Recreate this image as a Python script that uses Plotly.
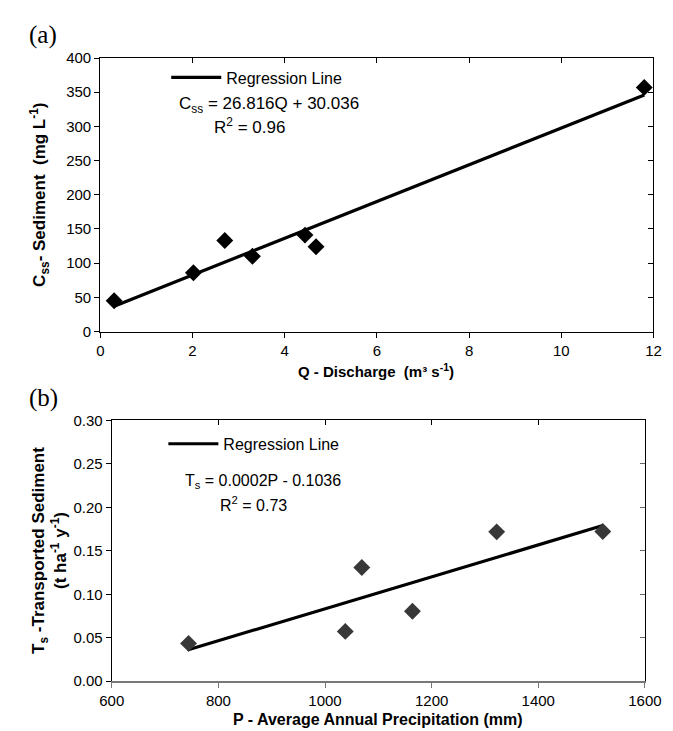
import plotly.graph_objects as go

# ---------- data ----------
# panel (a)
q_discharge = [0.30, 2.02, 2.70, 3.30, 4.44, 4.68, 11.80]
css_sediment = [45, 86, 133, 110, 141, 124, 357]
reg_a_x = [0.3, 11.8]
reg_a_y = [37, 346]
xticks_a = [0, 2, 4, 6, 8, 10, 12]
yticks_a = [0, 50, 100, 150, 200, 250, 300, 350, 400]

# panel (b)
p_precip = [744, 1038, 1069, 1164, 1322, 1521]
ts_sediment = [0.0435, 0.0573, 0.1307, 0.0804, 0.1718, 0.1722]
reg_b_x = [742, 1521]
reg_b_y = [0.0359, 0.179]
xticks_b = [600, 800, 1000, 1200, 1400, 1600]
yticks_b = [0.00, 0.05, 0.10, 0.15, 0.20, 0.25, 0.30]

W, H = 673, 731
def px(x):
    return x / W
def py(y):
    return 1 - y / H

FONT = "Liberation Sans, Arial, sans-serif"
NARROW = "Liberation Sans Narrow, Liberation Sans, Arial, sans-serif"

fig = go.Figure()

# panel (a)
fig.add_trace(go.Scatter(x=reg_a_x, y=reg_a_y, mode="lines",
                         line=dict(color="black", width=3.2),
                         name="Regression Line", legend="legend",
                         xaxis="x", yaxis="y"))
fig.add_trace(go.Scatter(x=q_discharge, y=css_sediment, mode="markers",
                         marker=dict(symbol="diamond", size=13, color="black"),
                         showlegend=False, xaxis="x", yaxis="y"))
# mirror axes for (a)
fig.add_trace(go.Scatter(x=q_discharge, y=css_sediment, mode="markers",
                         marker=dict(opacity=0), showlegend=False,
                         hoverinfo="skip", xaxis="x3", yaxis="y3"))

# panel (b)
fig.add_trace(go.Scatter(x=reg_b_x, y=reg_b_y, mode="lines",
                         line=dict(color="black", width=3.2),
                         name="Regression Line", legend="legend2",
                         xaxis="x2", yaxis="y2"))
fig.add_trace(go.Scatter(x=p_precip, y=ts_sediment, mode="markers",
                         marker=dict(symbol="diamond", size=13, color="#383838"),
                         showlegend=False, xaxis="x2", yaxis="y2"))
fig.add_trace(go.Scatter(x=p_precip, y=ts_sediment, mode="markers",
                         marker=dict(opacity=0), showlegend=False,
                         hoverinfo="skip", xaxis="x4", yaxis="y4"))

dom_ax = [px(83), px(662)]
dom_ay = [py(322), py(42)]
dom_bx = [px(95), px(653)]
dom_by = [py(680), py(413)]

tickfont = dict(family=FONT, size=15, color="black")

fig.update_layout(
    width=W, height=H,
    margin=dict(l=0, r=0, t=0, b=0),
    paper_bgcolor="white", plot_bgcolor="white",
    font=dict(family=FONT, color="black"),
    xaxis=dict(domain=dom_ax, anchor="y", range=[0, 12], tickvals=xticks_a,
               ticks="outside", ticklen=5, tickcolor="black",
               showline=True, linecolor="black", linewidth=1.2,
               showgrid=False, zeroline=False, tickfont=tickfont),
    yaxis=dict(domain=dom_ay, anchor="x", range=[0, 400], tickvals=yticks_a,
               ticks="outside", ticklen=5, tickcolor="black",
               showline=True, linecolor="black", linewidth=1.2,
               showgrid=False, zeroline=False, tickfont=tickfont),
    xaxis3=dict(overlaying="x", anchor="y3", side="top", range=[0, 12],
                tickvals=xticks_a, ticks="inside", ticklen=5, tickcolor="black",
                showticklabels=False, showline=True, linecolor="black",
                linewidth=1.2, showgrid=False, zeroline=False),
    yaxis3=dict(overlaying="y", anchor="x3", side="right", range=[0, 400],
                tickvals=yticks_a, ticks="inside", ticklen=5, tickcolor="black",
                showticklabels=False, showline=True, linecolor="black",
                linewidth=1.2, showgrid=False, zeroline=False),
    xaxis2=dict(domain=dom_bx, anchor="y2", range=[600, 1600], tickvals=xticks_b,
                ticks="outside", ticklen=5, tickcolor="#777",
                showline=True, linecolor="#777", linewidth=2,
                showgrid=False, zeroline=False, tickfont=tickfont),
    yaxis2=dict(domain=dom_by, anchor="x2", range=[0, 0.30], tickvals=yticks_b,
                tickformat=".2f",
                ticks="outside", ticklen=5, tickcolor="black",
                showline=True, linecolor="black", linewidth=1.2,
                showgrid=False, zeroline=False, tickfont=tickfont),
    xaxis4=dict(overlaying="x2", anchor="y4", side="top", range=[600, 1600],
                tickvals=xticks_b, ticks="inside", ticklen=5, tickcolor="black",
                showticklabels=False, showline=True, linecolor="black",
                linewidth=1.2, showgrid=False, zeroline=False),
    yaxis4=dict(overlaying="y2", anchor="x4", side="right", range=[0, 0.30],
                tickvals=yticks_b, ticks="inside", ticklen=5, tickcolor="#666",
                showticklabels=False, showline=True, linecolor="black",
                linewidth=1.2, showgrid=False, zeroline=False),
    legend=dict(x=px(152), y=py(62), xanchor="left", yanchor="middle",
                bgcolor="rgba(0,0,0,0)", borderwidth=0, itemwidth=50,
                font=dict(family=NARROW, size=16, color="black")),
    legend2=dict(x=px(149), y=py(437), xanchor="left", yanchor="middle",
                 bgcolor="rgba(0,0,0,0)", borderwidth=0, itemwidth=50,
                 font=dict(family=NARROW, size=16, color="black")),
    showlegend=True,
)

annotations = [
    dict(text="(a)", x=px(6), y=py(18), xanchor="left", yanchor="middle",
         font=dict(family="Liberation Serif, Times New Roman, serif", size=25)),
    dict(text="(b)", x=px(6), y=py(390), xanchor="left", yanchor="middle",
         font=dict(family="Liberation Serif, Times New Roman, serif", size=25)),
    dict(text="C<sub>ss</sub> = 26.816Q + 30.036", x=px(163), y=py(90),
         xanchor="left", yanchor="middle",
         font=dict(family=NARROW, size=17)),
    dict(text="R<sup>2</sup> = 0.96", x=px(200), y=py(112),
         xanchor="left", yanchor="middle",
         font=dict(family=NARROW, size=17)),
    dict(text="T<sub>s</sub> = 0.0002P - 0.1036", x=px(170), y=py(476),
         xanchor="left", yanchor="middle",
         font=dict(family=NARROW, size=16)),
    dict(text="R<sup>2</sup> = 0.73", x=px(206), y=py(499),
         xanchor="left", yanchor="middle",
         font=dict(family=NARROW, size=16)),
    dict(text="<b>Q - Discharge  (m³ s<sup>-1</sup>)</b>", x=px(372), y=py(362),
         xanchor="center", yanchor="middle",
         font=dict(family=FONT, size=15)),
    dict(text="<b>P - Average Annual Precipitation (mm)</b>", x=px(374), y=py(719),
         xanchor="center", yanchor="middle",
         font=dict(family=NARROW, size=16)),
    dict(text="<b>C<sub>ss</sub>- Sediment  (mg L<sup>-1</sup>)</b>", x=px(20), y=py(182),
         xanchor="center", yanchor="middle", textangle=-90,
         font=dict(family=FONT, size=17)),
    dict(text="<b>T<sub>s</sub> -Transported Sediment<br>(t ha<sup>-1</sup> y<sup>-1</sup>)</b>",
         x=px(30), y=py(546), xanchor="center", yanchor="middle", textangle=-90,
         font=dict(family=FONT, size=17)),
]
for a in annotations:
    a.update(xref="paper", yref="paper", showarrow=False)
fig.update_layout(annotations=annotations)

fig.write_html("out.html")
